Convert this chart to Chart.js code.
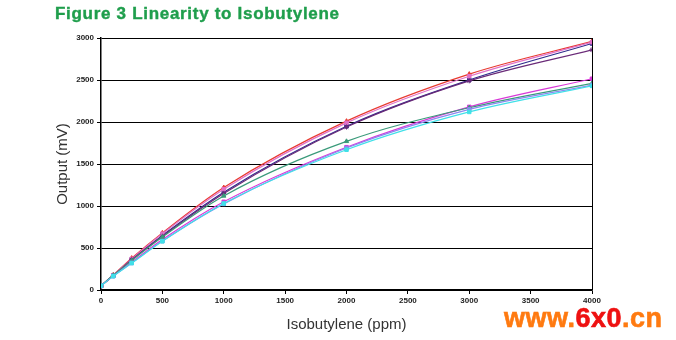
<!DOCTYPE html>
<html>
<head>
<meta charset="utf-8">
<script src="https://cdn.jsdelivr.net/npm/chart.js@4/dist/chart.umd.min.js"></script>
<style>
  html, body { margin: 0; padding: 0; background: #fff; }
  #wrap { position: relative; width: 676px; height: 340px; overflow: hidden; }
  #title { position: absolute; left: 55px; top: 4px; font-family: "Liberation Sans", Arial, sans-serif; font-weight: bold; font-size: 17px; letter-spacing: 0.7px; color: #1f9e4c; white-space: nowrap; -webkit-text-stroke: 0.4px #1f9e4c; }
  #wm { position: absolute; left: 504px; top: 303px; font-family: "Liberation Sans", Arial, sans-serif; font-weight: bold; font-size: 27px; white-space: nowrap; letter-spacing: 0.5px; }
  #wm .o { color: #ff7a10; -webkit-text-stroke: 0.6px #ff7a10; } #wm .r { color: #ee1111; -webkit-text-stroke: 0.6px #ee1111; }
  canvas { position: absolute; left: 0; top: 0; }
</style>
</head>
<body>
<div id="wrap">
  <canvas id="c" width="676" height="340"></canvas>
  <div id="title">Figure 3 Linearity to Isobutylene</div>
  <div id="wm"><span class="o">www.</span><span class="r">6x0</span><span class="o">.cn</span></div>
</div>
<script>
const ppm = [0, 100, 250, 500, 1000, 2000, 3000, 4000];
const yTicks = [0, 500, 1000, 1500, 2000, 2500, 3000];
const xTicks = [0, 500, 1000, 1500, 2000, 2500, 3000, 3500, 4000];
const seriesRed      = [50, 180, 380, 680, 1220, 2010, 2570, 2960];
const seriesPink     = [50, 175, 370, 670, 1200, 1990, 2545, 2950];
const seriesNavy     = [50, 172, 362, 650, 1165, 1950, 2500, 2935];
const seriesPurple   = [50, 170, 360, 640, 1150, 1940, 2490, 2860];
const seriesMagenta  = [50, 170, 330, 600, 1050, 1700, 2180, 2515];
const seriesTeal     = [50, 175, 350, 630, 1120, 1770, 2170, 2460];
const seriesCyan     = [50, 165, 320, 580, 1030, 1670, 2120, 2430];
const seriesViolet   = [50, 165, 322, 582, 1025, 1690, 2150, 2440];

const defs = [
  { d: seriesCyan,    c: '#40e0e8', s: 'rect' },
  { d: seriesViolet,  c: '#8c88f0', s: 'rect' },
  { d: seriesTeal,    c: '#3a9a7a', s: 'triangle' },
  { d: seriesMagenta, c: '#d838d8', s: 'rect' },
  { d: seriesPurple,  c: '#6a2a78', s: 'star' },
  { d: seriesPink,    c: '#e070c8', s: 'rect' },
  { d: seriesNavy,    c: '#2c2a8c', s: 'rect' },
  { d: seriesRed,     c: '#e83a30', s: 'triangle' }
];

const datasets = defs.map(o => ({
  data: ppm.map((x, i) => ({ x: x, y: o.d[i] })),
  borderColor: o.c,
  backgroundColor: o.c,
  borderWidth: 1.2,
  pointStyle: o.s,
  pointRadius: 2.5,
  pointBorderWidth: 1,
  cubicInterpolationMode: 'monotone',
  fill: false
}));

const frame = {
  id: 'frame',
  afterDraw(chart) {
    const { ctx, chartArea: a } = chart;
    ctx.save();
    ctx.strokeStyle = '#000';
    ctx.lineWidth = 1;
    ctx.beginPath();
    ctx.moveTo(Math.round(a.right) + 0.5, a.top);
    ctx.lineTo(Math.round(a.right) + 0.5, a.bottom);
    ctx.stroke();
    ctx.restore();
  }
};

const fmt = v => String(v);

new Chart(document.getElementById('c'), {
  type: 'line',
  data: { datasets },
  plugins: [frame],
  options: {
    responsive: false,
    animation: false,
    layout: { padding: { left: 0, right: 84, top: 38, bottom: 0 } },
    plugins: { legend: { display: false }, tooltip: { enabled: false } },
    scales: {
      x: {
        type: 'linear', min: 0, max: 4000,
        afterBuildTicks: s => { s.ticks = xTicks.map(v => ({ value: v })); },
        afterFit: s => { s.height = 50; },
        grid: { drawOnChartArea: false, drawTicks: true, tickLength: 4, color: '#000' },
        border: { color: '#000', width: 1.5 },
        ticks: { callback: fmt, color: '#222', font: { family: 'Liberation Sans', size: 8, weight: 'bold' }, padding: 2, maxRotation: 0 },
        title: { display: true, text: 'Isobutylene (ppm)', color: '#333', font: { family: 'Liberation Sans', size: 15 }, padding: { top: 0, bottom: 6 } }
      },
      y: {
        type: 'linear', min: 0, max: 3000,
        afterBuildTicks: s => { s.ticks = yTicks.map(v => ({ value: v })); },
        afterFit: s => { s.width = 101; },
        grid: { color: '#000', lineWidth: 1, tickLength: 4 },
        border: { color: '#000', width: 1.5 },
        ticks: { callback: fmt, color: '#222', font: { family: 'Liberation Sans', size: 8, weight: 'bold' }, padding: 3 },
        title: { display: true, text: 'Output (mV)', color: '#333', font: { family: 'Liberation Sans', size: 15 }, padding: { top: 54, bottom: 0 } }
      }
    }
  }
});
</script>
</body>
</html>
